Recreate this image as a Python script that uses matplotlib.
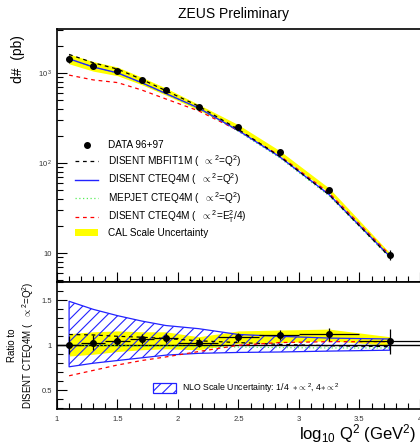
import numpy as np
import matplotlib
matplotlib.use('Agg')
import matplotlib.pyplot as plt
from matplotlib.lines import Line2D
from matplotlib.patches import Patch
from matplotlib.ticker import MultipleLocator, LogLocator, NullFormatter, FixedLocator, FixedFormatter

plt.rcParams['font.family'] = ['Liberation Sans', 'DejaVu Sans']
plt.rcParams['mathtext.fontset'] = 'custom'
plt.rcParams['mathtext.rm'] = 'Liberation Sans'
plt.rcParams['mathtext.it'] = 'Liberation Sans'
plt.rcParams['hatch.linewidth'] = 0.8

# bins in log10 Q^2
xq = np.array([1.1, 1.3, 1.5, 1.7, 1.9, 2.17, 2.5, 2.84, 3.25, 3.75])
bin_lo = np.array([1.0, 1.2, 1.4, 1.6, 1.8, 2.0, 2.33, 2.67, 3.0, 3.5])
bin_hi = np.array([1.2, 1.4, 1.6, 1.8, 2.0, 2.33, 2.67, 3.0, 3.5, 4.0])

# DISENT CTEQ4M (mu^2=Q^2), pb
cteq4m = np.array([1430, 1160, 1000, 778, 590, 408, 229, 117.5, 44.6, 9.23])

# ratios to DISENT CTEQ4M
data_ratio = np.array([1.0, 1.03, 1.05, 1.067, 1.085, 1.03, 1.09, 1.115, 1.12, 1.045])
data_relerr = np.array([0.10, 0.08, 0.05, 0.05, 0.05, 0.045, 0.045, 0.05, 0.06, 0.135])
mbfit_ratio = np.array([1.12, 1.115, 1.10, 1.09, 1.075, 1.05, 1.03, 1.01, 0.995, 0.985])
mepjet_ratio = np.array([1.0, 1.0, 0.995, 0.99, 0.99, 0.985, 0.98, 0.975, 0.97, 0.97])
et_ratio = np.array([0.66, 0.72, 0.78, 0.83, 0.87, 0.93, 1.00, 1.03, 1.04, 1.04])
cal_hi = np.array([1.13, 1.15, 1.16, 1.15, 1.15, 1.095, 1.16, 1.17, 1.18, 1.095])
cal_lo = np.array([0.88, 0.90, 0.93, 0.95, 0.96, 0.95, 1.02, 1.03, 1.05, 1.00])
nlo_hi = np.array([1.49, 1.40, 1.33, 1.27, 1.22, 1.185, 1.12, 1.10, 1.08, 1.07])
nlo_lo = np.array([0.76, 0.80, 0.83, 0.86, 0.89, 0.91, 0.92, 0.925, 0.935, 0.945])

data = cteq4m * data_ratio

fig = plt.figure(figsize=(4.2, 4.42), dpi=100)
ax = fig.add_axes([0.1357, 0.362, 0.893, 0.572])
ax2 = fig.add_axes([0.1357, 0.0747, 0.893, 0.2873])

# ---- upper panel
ax.fill_between(xq, cteq4m * cal_lo, cteq4m * cal_hi, color='#ffff00', lw=0)
ax.plot(xq, cteq4m * mepjet_ratio, color='#55ee55', ls=(0, (1, 2)), lw=0.9)
ax.plot(xq, cteq4m * et_ratio, color='red', ls=(0, (3, 3)), lw=0.9)
ax.plot(xq, cteq4m, color='#2222ff', lw=1.0)
ax.plot(xq, cteq4m * mbfit_ratio, color='black', ls=(0, (3, 3)), lw=0.9)
ax.errorbar(xq, data, yerr=data * data_relerr, fmt='o', color='black', ms=4, elinewidth=0.9, capsize=0)

ax.set_yscale('log')
ax.set_xlim(1, 4.1)
ax.set_ylim(4.8, 3050)
ax.yaxis.set_major_locator(FixedLocator([10, 100, 1000]))
ax.yaxis.set_major_formatter(FixedFormatter(['10', '10$^{\\,2}$', '10$^{\\,3}$']))
ax.yaxis.set_minor_locator(LogLocator(base=10, subs=np.arange(2, 10)))
ax.yaxis.set_minor_formatter(NullFormatter())
ax.xaxis.set_major_locator(MultipleLocator(0.5))
ax.xaxis.set_minor_locator(MultipleLocator(0.1))
ax.set_xticklabels([])
ax.tick_params(which='both', direction='in', labelsize=5.5, colors='black', labelcolor='#333333', width=0.8)
ax.tick_params(which='major', length=7)
ax.tick_params(which='minor', length=4)
ax.tick_params(axis='x', which='both', top=False)
for s in ax.spines.values():
    s.set_linewidth(1.2)
ax.set_ylabel('d#  (pb)', fontsize=10)
ax.yaxis.set_label_coords(-0.085, 0.88)

handles = [
    Line2D([], [], color='black', marker='o', ls='none', ms=4),
    Line2D([], [], color='black', ls=(0, (3, 3)), lw=0.9),
    Line2D([], [], color='#2222ff', lw=1.0),
    Line2D([], [], color='#55ee55', ls=(0, (1, 2)), lw=0.9),
    Line2D([], [], color='red', ls=(0, (3, 3)), lw=0.9),
    Patch(facecolor='#ffff00', edgecolor='none'),
]
labels = [
    'DATA 96+97',
    'DISENT MBFIT1M (  $\\propto^2$=Q$^2$)',
    'DISENT CTEQ4M (  $\\propto^2$=Q$^2$)',
    'MEPJET CTEQ4M (  $\\propto^2$=Q$^2$)',
    'DISENT CTEQ4M (  $\\propto^2$=E$_\\mathrm{T}^2$/4)',
    'CAL Scale Uncertainty',
]
ax.legend(handles, labels, loc='upper left', bbox_to_anchor=(0.025, 0.597), frameon=False,
          fontsize=7.2, labelspacing=0.28, handlelength=2.3, handletextpad=1.0)

fig.text(0.555, 0.968, 'ZEUS Preliminary', ha='center', va='center', fontsize=10)

# ---- lower panel
ax2.fill_between(xq, cal_lo, cal_hi, color='#ffff00', lw=0)
ax2.fill_between(xq, nlo_lo, nlo_hi, facecolor='none', edgecolor='#2222ff', hatch='///', lw=0.9)
ax2.axhline(1.0, color='black', lw=1.0)
ax2.plot(xq, mbfit_ratio, color='black', ls=(0, (3, 3)), lw=0.9)
ax2.plot(xq, mepjet_ratio, color='#55ee55', ls=(0, (1, 2)), lw=0.9)
ax2.plot(xq, et_ratio, color='red', ls=(0, (3, 3)), lw=0.9)
ax2.errorbar(xq, data_ratio, yerr=data_ratio * data_relerr,
             xerr=[xq - bin_lo, bin_hi - xq], fmt='o', color='black', ms=4,
             elinewidth=0.9, capsize=0)

ax2.set_xlim(1, 4.1)
ax2.set_ylim(0.29, 1.705)
ax2.xaxis.set_major_locator(FixedLocator([1, 1.5, 2, 2.5, 3, 3.5, 4]))
ax2.xaxis.set_major_formatter(FixedFormatter(['1', '1.5', '2', '2.5', '3', '3.5', '4']))
ax2.xaxis.set_minor_locator(MultipleLocator(0.1))
ax2.yaxis.set_major_locator(FixedLocator([0.5, 1.0, 1.5]))
ax2.yaxis.set_major_formatter(FixedFormatter(['0.5', '1', '1.5']))
ax2.yaxis.set_minor_locator(MultipleLocator(0.1))
ax2.tick_params(which='both', direction='in', labelsize=5.5, labelcolor='#333333', width=0.8)
ax2.tick_params(which='major', length=7)
ax2.tick_params(which='minor', length=4)
ax2.tick_params(axis='x', which='both', top=False, pad=5)
for s in ax2.spines.values():
    s.set_linewidth(1.2)
ax2.set_ylabel('Ratio to\nDISENT CTEQ4M (  $\\propto^2$=Q$^2$)', fontsize=7, linespacing=1.3)
ax2.yaxis.set_label_coords(-0.055, 0.5)

nlo_handle = Patch(facecolor='none', edgecolor='#2222ff', hatch='///', lw=0.9)
ax2.legend([nlo_handle], ['NLO Scale Uncertainty: 1/4  $\\ast\\propto^2$, 4$\\ast\\propto^2$'],
           loc='lower left', bbox_to_anchor=(0.235, 0.05), frameon=False, fontsize=6.3,
           handlelength=2.6, handleheight=1.3, handletextpad=0.7)

fig.text(0.712, -0.006, 'log$_{10}$ Q$^{2}$ (GeV$^{2}$)', ha='left', va='bottom', fontsize=12)

fig.savefig('out.png', dpi=100)
